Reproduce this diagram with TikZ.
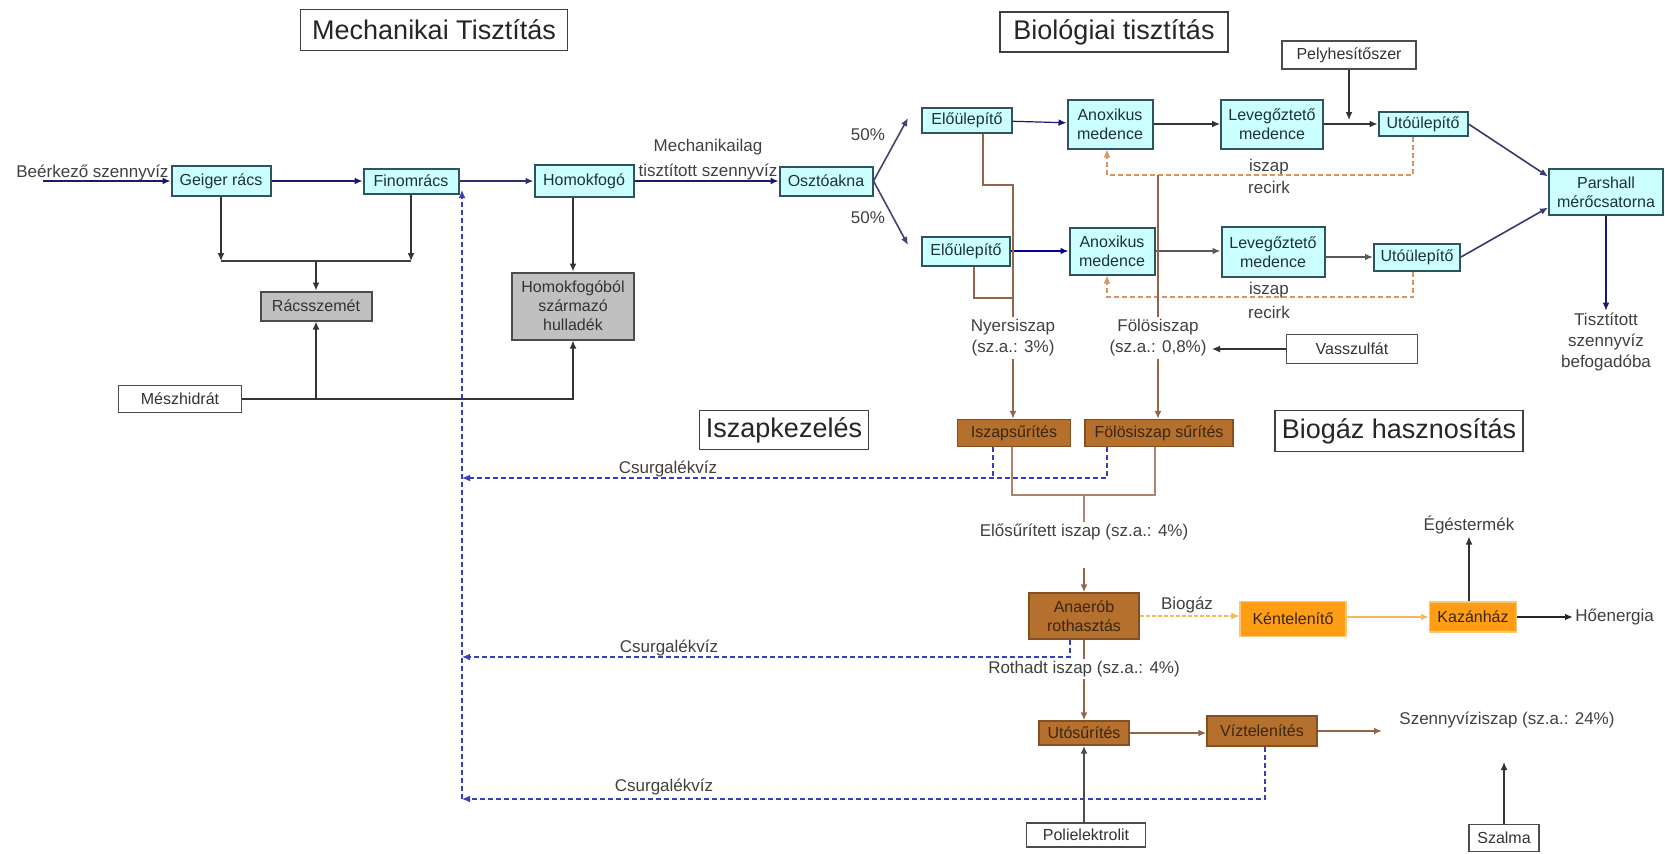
\documentclass[tikz,border=0pt]{standalone}
\usepackage{fontspec}
\setmainfont{Liberation Sans}
\usetikzlibrary{arrows.meta}

\definecolor{vilagkek}{RGB}{204,255,255}
\definecolor{keret}{RGB}{45,85,95}
\definecolor{sotetkek}{RGB}{25,25,110}
\definecolor{szaggkek}{RGB}{60,60,190}
\definecolor{rozsda}{RGB}{182,112,46}
\definecolor{rozsdakeret}{RGB}{130,80,35}
\definecolor{narancs}{RGB}{255,158,20}
\definecolor{barnavon}{RGB}{150,100,75}
\definecolor{recirkszin}{RGB}{215,150,100}
\definecolor{gazszin}{RGB}{245,185,90}
\definecolor{szurke}{RGB}{192,192,192}

\begin{document}
\begin{tikzpicture}[x=0.5pt,y=0.5pt,yscale=-1,
  every node/.style={inner sep=1pt,align=center},
  meret/.style 2 args={minimum width=#1*0.5pt,minimum height=#2*0.5pt},
  apro/.style={font=\fontsize{8}{9.5}\selectfont},
  felirat/.style={font=\fontsize{8.5}{10.5}\selectfont,text=black!75},
  cim/.style={draw=black!75,line width=0.8pt,fill=white,font=\fontsize{13.5}{16}\selectfont,text=black!85},
  viz/.style={apro,draw=keret,line width=1pt,fill=vilagkek,text=keret!60!black},
  hulladek/.style={apro,draw=black!70,line width=1pt,fill=szurke,text=black!80},
  vegyszer/.style={apro,draw=black!70,line width=0.6pt,fill=white,text=black!80},
  iszap/.style={apro,draw=rozsdakeret,line width=0.6pt,fill=rozsda,text=black!70!brown},
  gaz/.style={apro,draw=narancs!60!white,line width=0.6pt,fill=narancs,text=black!70!brown},
  vonal/.style={draw=black!80,line width=0.6pt},
  vastag/.style={draw=black!75,line width=1.3pt},
  kek/.style={draw=sotetkek,line width=0.6pt},
  kekvastag/.style={draw=sotetkek!80!gray,line width=1.2pt},
  kekszagg/.style={draw=szaggkek,line width=0.6pt,dash pattern=on 2.5pt off 1.5pt},
  recirk/.style={draw=recirkszin,line width=0.6pt,dash pattern=on 2.5pt off 1.5pt},
  barna/.style={draw=barnavon,line width=0.8pt},
  gazvonal/.style={draw=gazszin,line width=0.7pt},
  nyil/.style={-{Latex[length=4pt,width=3.4pt]}}
]
\useasboundingbox (0,0) rectangle (1665,853);

% Titles
\node (mech) at (434,30) [cim,meret={267}{41}] {Mechanikai Tisztítás};
\node (bio) at (1114,32) [cim,meret={228}{40}] {Biológiai tisztítás};
\node (iszk) at (784,430) [cim,meret={169}{39}] {Iszapkezelés};
\node (biog) at (1399,431) [cim,meret={248}{41}] {Biogáz hasznosítás};

% Mechanical line
\node (geiger) at (221,181) [viz,meret={99}{30}] {Geiger rács};
\node (finom) at (411,181) [viz,meret={95}{25}] {Finomrács};
\node (homok) at (584,181) [viz,meret={99}{32}] {Homokfogó};
\node (racs) at (316,306) [hulladek,meret={111}{29}] {Rácsszemét};
\node (homhull) at (573,306) [hulladek,meret={122}{67}] {Homokfogóból\\származó\\hulladék};
\node (meszh) at (180,399) [vegyszer,meret={123}{27}] {Mészhidrát};
\node (oszto) at (826,181) [viz,meret={93}{29}] {Osztóakna};

% Biological lines
\node (elo1) at (967,120) [viz,meret={90}{25}] {Előülepítő};
\node (anox1) at (1110,124) [viz,meret={85}{49}] {Anoxikus\\medence};
\node (lev1) at (1272,124) [viz,meret={102}{49}] {Levegőztető\\medence};
\node (uto1) at (1423,124) [viz,meret={89}{24}] {Utóülepítő};
\node (elo2) at (966,251) [viz,meret={88}{29}] {Előülepítő};
\node (anox2) at (1112,251) [viz,meret={85}{47}] {Anoxikus\\medence};
\node (lev2) at (1273,252) [viz,meret={103}{50}] {Levegőztető\\medence};
\node (uto2) at (1417,257) [viz,meret={86}{27}] {Utóülepítő};
\node (parshall) at (1606,192) [viz,meret={114}{46}] {Parshall\\mérőcsatorna};
\node (pelyh) at (1349,55) [vegyszer,meret={134}{28}] {Pelyhesítőszer};
\node (vassz) at (1352,349) [vegyszer,meret={131}{29}] {Vasszulfát};

% Sludge line
\node (iszsur) at (1014,433) [iszap,meret={113}{27}] {Iszapsűrítés};
\node (folsur) at (1159,433) [iszap,meret={148}{27}] {Fölösiszap sűrítés};
\node (anaerob) at (1084,616) [iszap,meret={110}{46}] {Anaerób\\rothasztás};
\node (utosur) at (1084,733) [iszap,meret={90}{24}] {Utósűrítés};
\node (viztel) at (1262,731) [iszap,meret={110}{30}] {Víztelenítés};
\node (kent) at (1293,619) [gaz,meret={106}{35}] {Kéntelenítő};
\node (kazan) at (1473,617) [gaz,meret={87}{30}] {Kazánház};
\node (poli) at (1086,835) [vegyszer,meret={119}{24}] {Polielektrolit};
\node (szalma) at (1504,838) [vegyszer,meret={70}{27}] {Szalma};

% Text Nodes
\node (bejovo) at (14,173) [felirat,anchor=west] {Beérkező szennyvíz};
\node (mechtxt) at (708,160) [felirat,font=\fontsize{8.5}{12.5}\selectfont] {Mechanikailag\\tisztított szennyvíz};
\node (p50a) at (868,135) [felirat] {50\%};
\node (p50b) at (868,218) [felirat] {50\%};
\node (recirk1) at (1269,176) [felirat,font=\fontsize{8.5}{11}\selectfont] {iszap\\recirk};
\node (recirk2) at (1269,300) [felirat,font=\fontsize{8.5}{12}\selectfont] {iszap\\recirk};
\node (nyers) at (1013,338) [felirat] {Nyersiszap\\(sz.a.: 3\%)};
\node (folos) at (1158,338) [felirat] {Fölösiszap\\(sz.a.: 0,8\%)};
\node (tiszt) at (1606,342) [felirat] {Tisztított\\szennyvíz\\befogadóba};
\node (csurg1) at (668,469) [felirat] {Csurgalékvíz};
\node (csurg2) at (669,648) [felirat] {Csurgalékvíz};
\node (csurg3) at (664,787) [felirat] {Csurgalékvíz};
\node (elosurt) at (1084,532) [felirat] {Elősűrített iszap (sz.a.: 4\%)};
\node (rothadt) at (1084,669) [felirat] {Rothadt iszap (sz.a.: 4\%)};
\node (biogaz) at (1187,605) [felirat] {Biogáz};
\node (eges) at (1469,525) [felirat] {Égéstermék};
\node (hoen) at (1573,617) [felirat,anchor=west] {Hőenergia};
\node (szennyisz) at (1397,720) [felirat,anchor=west] {Szennyvíziszap (sz.a.: 24\%)};

% Helper points
\coordinate (be) at (43,181);
\coordinate (rudb) at (221,261);
\coordinate (rudk) at (316,261);
\coordinate (rudj) at (411,261);
\coordinate (v1) at (908,118);
\coordinate (v2) at (908,245);
\coordinate (pcs) at (1349,120);
\coordinate (r1a) at (1413,175);
\coordinate (r1b) at (1107,175);
\coordinate (r2a) at (1413,297);
\coordinate (r2b) at (1107,297);
\coordinate (ny1) at (983,185);
\coordinate (ny2) at (974,298);
\coordinate (fol0) at (1158,175);
\coordinate (vcs) at (1212,349);
\coordinate (cscsucs) at (462,190);
\coordinate (cs0) at (462,799);
\coordinate (cs0a) at (1265,799);
\coordinate (cs1) at (462,478);
\coordinate (cs1a) at (993,478);
\coordinate (cs1b) at (1107,478);
\coordinate (cs2) at (462,657);
\coordinate (cs2a) at (1070,657);
\coordinate (sz1) at (1012,495);
\coordinate (sz2) at (1155,495);
\coordinate (sz3) at (1084,495);
\coordinate (an0) at (1084,568);
\coordinate (szcs) at (1382,731);
\coordinate (szalcs) at (1504,762);

% Mechanical connectors
\draw [kek,nyil] (be) -- (geiger.west);
\draw [kek,nyil] (geiger) -- (finom);
\draw [kekvastag,nyil] (finom) -- (homok);
\draw [kek,nyil] (homok) -- (oszto);
\draw [vonal,nyil] (geiger.south) -- (rudb);
\draw [vonal,nyil] (finom.south) -- (rudj);
\draw [vastag] (rudb) -- (rudj);
\draw [vonal,nyil] (rudk) -- (racs.north);
\draw [vonal,nyil] (homhull.north |- homok.south) -- (homhull.north);
\draw [vonal,nyil] (meszh.east) -| (homhull.south);
\draw [vonal,nyil] (racs.south |- meszh.east) -- (racs.south);
\draw [kekszagg,nyil] (cs0) -- (cscsucs);

% Biological connectors
\draw [kek,draw=sotetkek!60!gray,line width=0.8pt,nyil] (oszto.east) -- (v1);
\draw [kek,draw=sotetkek!60!gray,line width=0.8pt,nyil] (oszto.east) -- (v2);
\draw [kek,nyil] (elo1) -- (anox1);
\draw [vonal,nyil] (anox1) -- (lev1);
\draw [vonal,nyil] (lev1) -- (uto1);
\draw [kek,draw=blue!60!black,line width=1.1pt,nyil] (elo2.east |- anox2) -- (anox2);
\draw [vastag,draw=black!65,nyil] (anox2) -- (anox2 -| lev2.west);
\draw [vastag,draw=black!65,nyil] (lev2.east |- uto2) -- (uto2);
\draw [kek,draw=sotetkek!70!gray,line width=0.8pt,nyil] (uto1.east) -- (parshall.165);
\draw [kek,draw=sotetkek!70!gray,line width=0.8pt,nyil] (uto2.east) -- (parshall.195);
\draw [vonal,nyil] (pelyh.south) -- (pcs);
\draw [kek,nyil] (parshall.south) -- (tiszt.north);
\draw [recirk,nyil] (uto1.south -| r1a) -- (r1a) -- (r1b) -- (r1b |- anox1.south);
\draw [recirk,nyil] (uto2.south -| r2a) -- (r2a) -- (r2b) -- (r2b |- anox2.south);
\draw [barna] (elo1.south -| ny1) -- (ny1) -| (nyers.north);
\draw [barna] (elo2.south -| ny2) -- (ny2) -- (ny2 -| nyers.north);
\draw [barna] (fol0) -- (folos.north);
\draw [vonal,nyil] (vassz.west) -- (vcs);

% Sludge connectors
\draw [barna,nyil] (nyers.south) -- (nyers.south |- iszsur.north);
\draw [barna,nyil] (folos.south) -- (folos.south |- folsur.north);
\draw [kekszagg] (iszsur.south -| cs1a) -- (cs1a);
\draw [kekszagg,nyil] (folsur.south -| cs1b) -- (cs1b) -- (cs1);
\draw [barna,draw=barnavon!80!white] (iszsur.south -| sz1) -- (sz1) -- (sz2) -- (folsur.south -| sz2);
\draw [barna,draw=barnavon!80!white] (sz3) -- (elosurt.north);
\draw [barna,nyil] (an0) -- (anaerob.north);
\draw [gazvonal,dash pattern=on 2pt off 1pt,nyil] (anaerob.east) -- (anaerob.east -| kent.west);
\draw [gazvonal,nyil] (kent.east |- kazan) -- (kazan.west);
\draw [vonal,nyil] (kazan.north -| eges.south) -- (eges.south);
\draw [vastag,draw=black!85,nyil] (kazan.east) -- (hoen.west);
\draw [kekszagg,nyil] (anaerob.south -| cs2a) -- (cs2a) -- (cs2);
\draw [barna] (anaerob.south) -- (rothadt.north);
\draw [barna,nyil] (rothadt.south) -- (utosur.north);
\draw [barna,line width=1.1pt,nyil] (utosur.east) -- (utosur.east -| viztel.west);
\draw [barna,nyil] (viztel.east |- szcs) -- (szcs);
\draw [kekszagg,nyil] (viztel.south -| cs0a) -- (cs0a) -- (cs0);
\draw [vastag,draw=black!70,nyil] (poli.north -| utosur.south) -- (utosur.south);
\draw [vonal,nyil] (szalma.north) -- (szalcs);

\end{tikzpicture}
\end{document}
